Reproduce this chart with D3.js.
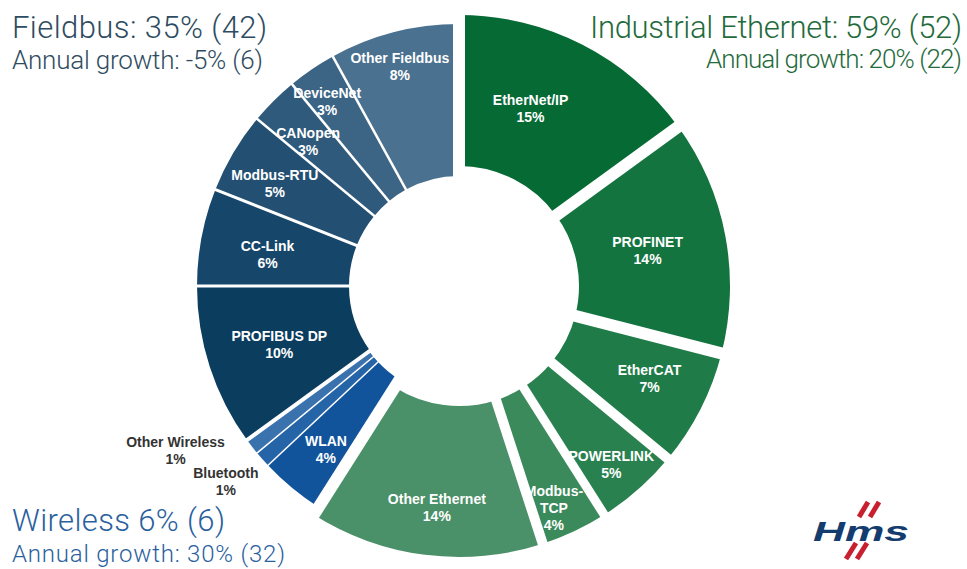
<!DOCTYPE html>
<html>
<head>
<meta charset="utf-8">
<script src="https://cdn.jsdelivr.net/npm/d3@7"></script>
<style>
  body { margin: 0; background: #fff; }
  svg { display: block; }
  .title { font-family: Roboto, "Open Sans", sans-serif; font-weight: 300; }
  .slice-label { font-family: "Liberation Sans", Arial, sans-serif; font-weight: bold; font-size: 14px; }
</style>
</head>
<body>
<svg id="chart" width="967" height="569"></svg>
<script>
// Network technology shares, clockwise from 12 o'clock
const segments = ['EtherNet/IP', 'PROFINET', 'EtherCAT', 'POWERLINK', 'Modbus-TCP', 'Other Ethernet',
    'WLAN', 'Bluetooth', 'Other Wireless',
    'PROFIBUS DP', 'CC-Link', 'Modbus-RTU', 'CANopen', 'DeviceNet', 'Other Fieldbus']
const shares = [15, 14, 7, 5, 4, 14, 4, 1, 1, 10, 6, 5, 3, 3, 8]
const groups = ['ethernet', 'ethernet', 'ethernet', 'ethernet', 'ethernet', 'ethernet',
    'wireless', 'wireless', 'wireless',
    'fieldbus', 'fieldbus', 'fieldbus', 'fieldbus', 'fieldbus', 'fieldbus']

// Group headings
const headings = [
    { group: 'fieldbus', title: 'Fieldbus: 35% (42)', growth: 'Annual growth: -5% (6)' },
    { group: 'ethernet', title: 'Industrial Ethernet: 59% (52)', growth: 'Annual growth: 20% (22)' },
    { group: 'wireless', title: 'Wireless 6% (6)', growth: 'Annual growth: 30% (32)' }
]

const width = 967,
    height = 569,
    cx = 459,
    cy = 286

const sliceColors = {
    'EtherNet/IP': '#066a34', 'PROFINET': '#13743f', 'EtherCAT': '#1f7b48', 'POWERLINK': '#2a8150',
    'Modbus-TCP': '#3a8a5c', 'Other Ethernet': '#4a9068',
    'WLAN': '#11549c', 'Bluetooth': '#2664a8', 'Other Wireless': '#3a72ae',
    'PROFIBUS DP': '#0b3d5e', 'CC-Link': '#17466b', 'Modbus-RTU': '#235072', 'CANopen': '#2f5a7c',
    'DeviceNet': '#3b6485', 'Other Fieldbus': '#4a7190'
}
const titleColors = { fieldbus: '#2e4c61', ethernet: '#1f6b3c', wireless: '#2b5f9e' }
const radii = { ethernet: [120, 271], wireless: [111, 262], fieldbus: [110, 262] }
// white gap drawn on the boundary at the start of each slice
const gapBefore = [12, 12, 12, 10, 9, 10, 12, 1.5, 1.5, 4, 3, 3, 2.5, 2.5, 2.5]
// label radius and angle nudge (degrees)
const labelR = [191, 192, 212, 235, 241, 223, 211, 304, 328, 189, 194, 211, 209, 227, 227]
const labelShift = [-5, 0, -1, 1, 2, -1.5, -0.5, 1.5, 7.6, 0, -1.6, -1.4, -1.2, -1.3, -0.7]
const labelLines = {
    'Modbus-TCP': ['Modbus-', 'TCP']
}

const data = segments.map((s, i) => ({ name: s, value: shares[i], group: groups[i], idx: i }))

const svg = d3.select('#chart')

const pie = d3.pie()
    .sort(null)
    .value(d => d.value)
    .startAngle(0)
    .endAngle(2 * Math.PI)

const arcs = pie(data)

const g = svg.append('g')
    .attr('transform', `translate(${cx},${cy})`)

const arc = d3.arc()
    .innerRadius(d => radii[d.data.group][0])
    .outerRadius(d => radii[d.data.group][1])

g.selectAll('path.slice')
    .data(arcs)
    .enter()
    .append('path')
    .attr('class', 'slice')
    .attr('d', arc)
    .attr('fill', d => sliceColors[d.data.name])

// Gaps between slices
g.selectAll('line.gap')
    .data(arcs)
    .enter()
    .append('line')
    .attr('class', 'gap')
    .attr('x1', 0)
    .attr('y1', 0)
    .attr('x2', d => 300 * Math.sin(d.startAngle))
    .attr('y2', d => -300 * Math.cos(d.startAngle))
    .attr('stroke', '#fff')
    .attr('stroke-width', d => gapBefore[d.data.idx])

// Slice labels
const labels = g.selectAll('text.slice-label')
    .data(arcs)
    .enter()
    .append('text')
    .attr('class', 'slice-label')
    .attr('text-anchor', 'middle')
    .attr('fill', d => labelR[d.data.idx] > 280 ? '#333' : '#fff')
    .attr('transform', d => {
        const a = (d.startAngle + d.endAngle) / 2 + labelShift[d.data.idx] * Math.PI / 180
        const r = labelR[d.data.idx]
        return `translate(${r * Math.sin(a)},${-r * Math.cos(a)})`
    })

labels.each(function(d) {
    const lines = (labelLines[d.data.name] || [d.data.name]).concat([d.data.value + '%'])
    const top = -(lines.length - 1) * 17 / 2 + 5
    d3.select(this).selectAll('tspan')
        .data(lines)
        .enter()
        .append('tspan')
        .attr('x', 0)
        .attr('y', (l, i) => top + i * 17)
        .text(l => l)
})

// Headings (widths fitted to the reference)
const headPos = {
    fieldbus: { x: 12, y1: 38, y2: 69, anchor: 'start', s2: 26, w1: 255, w2: 251 },
    ethernet: { x: 962, y1: 38, y2: 68, anchor: 'end', s2: 26, w1: 372, w2: 256 },
    wireless: { x: 12, y1: 531, y2: 562, anchor: 'start', s2: 24, w1: 213, w2: 273 }
}
headings.forEach(h => {
    const p = headPos[h.group]
    svg.append('text')
        .attr('class', 'title')
        .attr('x', p.x)
        .attr('y', p.y1)
        .attr('text-anchor', p.anchor)
        .attr('font-size', 31)
        .attr('textLength', p.w1)
        .attr('fill', titleColors[h.group])
        .text(h.title)
    svg.append('text')
        .attr('class', 'title')
        .attr('x', p.x)
        .attr('y', p.y2)
        .attr('text-anchor', p.anchor)
        .attr('font-size', p.s2)
        .attr('textLength', p.w2)
        .attr('fill', titleColors[h.group])
        .text(h.growth)
})

// HMS logo
const logo = svg.append('g')
const slashes = [[868, 502, 859, 517], [879, 502, 870, 517], [856, 543, 846, 559], [867, 543, 857, 559]]
logo.selectAll('line')
    .data(slashes)
    .enter()
    .append('line')
    .attr('x1', d => d[0]).attr('y1', d => d[1])
    .attr('x2', d => d[2]).attr('y2', d => d[3])
    .attr('stroke', '#c8202f')
    .attr('stroke-width', 5)
logo.append('text')
    .attr('x', 813)
    .attr('y', 541)
    .attr('font-family', '"Liberation Sans", Arial, sans-serif')
    .attr('font-weight', 'bold')
    .attr('font-style', 'italic')
    .attr('font-size', 27)
    .attr('textLength', 96)
    .attr('lengthAdjust', 'spacingAndGlyphs')
    .attr('fill', '#143c6e')
    .text('Hms')
</script>
</body>
</html>
